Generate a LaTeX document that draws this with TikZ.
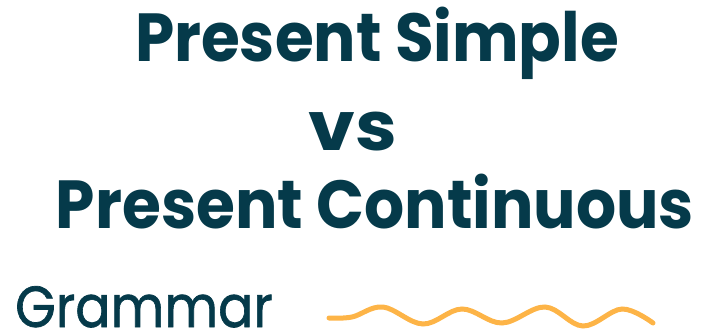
\documentclass[tikz,border=0pt]{standalone}
\usepackage{fontspec}
\newfontfamily\titlefont{Poppins}
\newfontfamily\handfont{Poppins}[FakeBold=1.2]
\definecolor{navy}{HTML}{053A4A}
\definecolor{wavecol}{HTML}{FDB447}
\begin{document}
\begin{tikzpicture}[x=1pt,y=-1pt]
\useasboundingbox (0,0) rectangle (703,334);
\tikzset{
  title/.style={text=navy,font=\titlefont\bfseries\fontsize{68}{68}\selectfont,inner sep=0pt,anchor=base},
  hand/.style={text=navy,font=\handfont\fontsize{58}{58}\selectfont,inner sep=0pt,anchor=base west},
  wavy/.style={draw=wavecol,line width=5pt,line cap=round}
}
\node[title] (l1) at (377,62) {\scalebox{0.925}[1]{Present Simple}};
\node[title] (l2) at (353,150) {\scalebox{1.1}[1]{vs}};
\node[title] (l3) at (375,228) {\scalebox{0.927}[1]{Present Continuous}};
\node[hand] (g) at (15,327) {\scalebox{0.9}[1]{Grammar}};
\draw[wavy] plot[smooth,tension=0.6] coordinates {(329,318) (352,317) (383,307) (423,324) (462,309) (502,323) (545,307) (583,326) (622,309) (653,323)};
\end{tikzpicture}
\end{document}
